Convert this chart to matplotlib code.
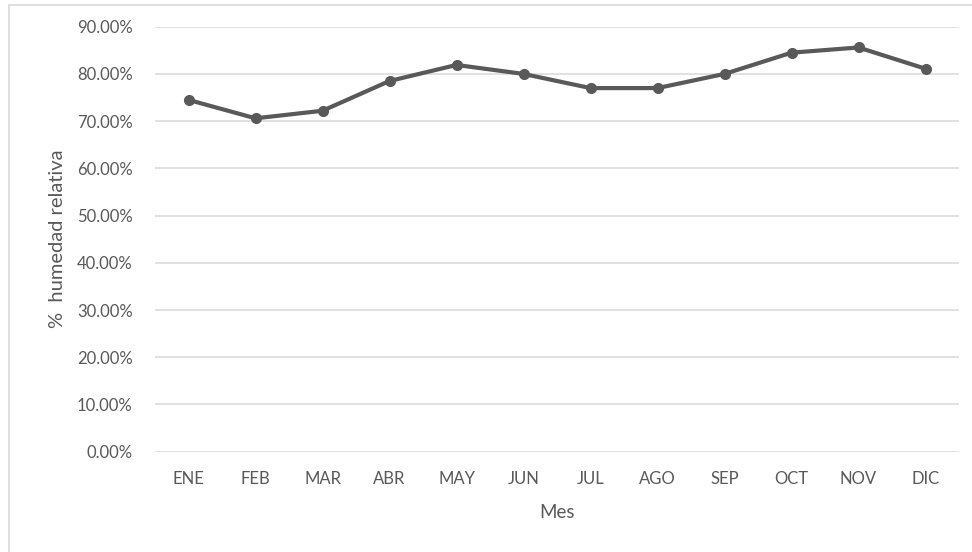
import matplotlib
matplotlib.use("Agg")
import matplotlib.pyplot as plt
from matplotlib.ticker import FuncFormatter
from matplotlib.patches import Rectangle

months = ["ENE", "FEB", "MAR", "ABR", "MAY", "JUN", "JUL", "AGO", "SEP", "OCT", "NOV", "DIC"]
humidity = [74.5, 70.6, 72.2, 78.5, 81.9, 80.0, 77.0, 77.0, 80.0, 84.5, 85.6, 81.1]
y_ticks = [0, 10, 20, 30, 40, 50, 60, 70, 80, 90]

plt.rcParams['font.family'] = ['Lato', 'DejaVu Sans']
txt = '#595959'

fig = plt.figure(figsize=(9.72, 5.52), dpi=100)
fig.patches.append(Rectangle((9/972, -0.1), 1.2, 1 - 5/552 + 0.1, transform=fig.transFigure,
                             fill=False, edgecolor='#d9d9d9', linewidth=1.2))
ax = fig.add_axes([155/972, 1 - 451.7/552, 804/972, (451.7 - 26.7)/552])

x = list(range(len(months)))
ax.plot(x, humidity, color='#595959', linewidth=3.0, marker='o', markersize=7, zorder=3)

ax.set_xlim(-0.5, len(months) - 0.5)
ax.set_ylim(0, 90)
ax.set_yticks(y_ticks)
ax.yaxis.set_major_formatter(FuncFormatter(lambda v, p: f"{v:.2f}%"))
ax.set_xticks(x)
ax.set_xticklabels(months)

ax.grid(axis='y', color='#d9d9d9', linewidth=1.1)
ax.set_axisbelow(True)
for s in ax.spines.values():
    s.set_visible(False)
ax.tick_params(axis='both', length=0, colors=txt, labelsize=12)
ax.tick_params(axis='y', pad=16)
ax.tick_params(axis='x', pad=14)

ax.set_xlabel("Mes", color=txt, fontsize=13.5, labelpad=12)
ax.set_ylabel("%  humedad relativa", color=txt, fontsize=14.5, labelpad=8)

fig.savefig("out.png", dpi=100)
